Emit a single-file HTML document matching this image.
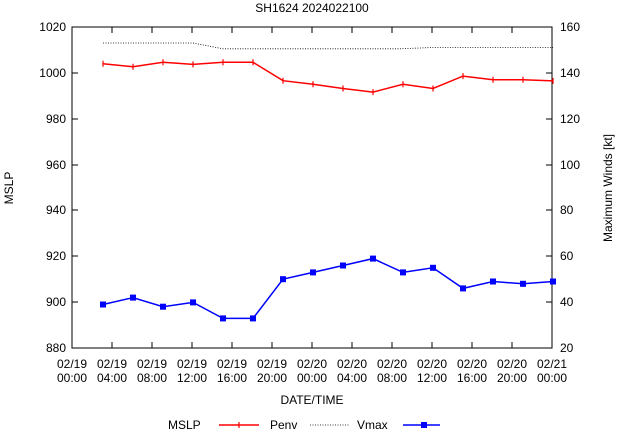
<!DOCTYPE html><html><head><style>body{margin:0;background:#fff}svg{display:block}text{font-family:"Liberation Sans",sans-serif;font-size:12px;fill:#000}</style></head><body>
<svg width="619" height="432" xmlns="http://www.w3.org/2000/svg">
<rect x="72" y="27" width="480" height="321" fill="none" stroke="#000" stroke-width="1"/>
<g stroke="#000" stroke-width="1">
<path d="M72 27h6M72 73h6M72 119h6M72 165h6M72 210h6M72 256h6M72 302h6M552 27h-6M552 73h-6M552 119h-6M552 165h-6M552 210h-6M552 256h-6M552 302h-6"/>
<path d="M112 348v-6M152 348v-6M192 348v-6M232 348v-6M272 348v-6M312 348v-6M352 348v-6M392 348v-6M432 348v-6M472 348v-6M512 348v-6M112 27v6M152 27v6M192 27v6M232 27v6M272 27v6M312 27v6M352 27v6M392 27v6M432 27v6M472 27v6M512 27v6"/>
</g>
<g text-anchor="end">
<text x="66" y="31">1020</text><text x="66" y="77">1000</text><text x="66" y="123">980</text><text x="66" y="169">960</text><text x="66" y="214">940</text><text x="66" y="260">920</text><text x="66" y="306">900</text><text x="66" y="352">880</text></g>
<g text-anchor="start">
<text x="560" y="31">160</text><text x="560" y="77">140</text><text x="560" y="123">120</text><text x="560" y="169">100</text><text x="560" y="214">80</text><text x="560" y="260">60</text><text x="560" y="306">40</text><text x="560" y="352">20</text></g>
<g text-anchor="middle">
<text x="72" y="368">02/19</text><text x="72" y="382">00:00</text>
<text x="112" y="368">02/19</text><text x="112" y="382">04:00</text>
<text x="152" y="368">02/19</text><text x="152" y="382">08:00</text>
<text x="192" y="368">02/19</text><text x="192" y="382">12:00</text>
<text x="232" y="368">02/19</text><text x="232" y="382">16:00</text>
<text x="272" y="368">02/19</text><text x="272" y="382">20:00</text>
<text x="312" y="368">02/20</text><text x="312" y="382">00:00</text>
<text x="352" y="368">02/20</text><text x="352" y="382">04:00</text>
<text x="392" y="368">02/20</text><text x="392" y="382">08:00</text>
<text x="432" y="368">02/20</text><text x="432" y="382">12:00</text>
<text x="472" y="368">02/20</text><text x="472" y="382">16:00</text>
<text x="512" y="368">02/20</text><text x="512" y="382">20:00</text>
<text x="552" y="368">02/21</text><text x="552" y="382">00:00</text>
<text x="312" y="404">DATE/TIME</text>
<text x="312" y="12">SH1624 2024022100</text>
<text transform="translate(13,188) rotate(-90)">MSLP</text>
<text transform="translate(612,188) rotate(-90)">Maximum Winds [kt]</text>
</g>
<polyline fill="none" stroke="#000" stroke-width="0.8" stroke-dasharray="1,1.5" points="103,43 193,43 223,48.8 400,48.8 430,47.6 553,47.6"/>
<polyline fill="none" stroke="#f00" stroke-width="1.5" points="103,63.7 133,66.7 163,62.3 193,64.4 223,62.3 253,62.3 283,80.7 313,84.3 343,88.5 373,92.1 403,84.3 433,88.5 463,76.1 493,79.7 523,79.7 553,80.9"/>
<g stroke="#f00" stroke-width="1.2" fill="none">
<path d="M103 60.7v6M133 63.7v6M163 59.3v6M193 61.4v6M223 59.3v6M253 59.3v6M283 77.7v6M313 81.3v6M343 85.5v6M373 89.1v6M403 81.3v6M433 85.5v6M463 73.1v6M493 76.7v6M523 76.7v6M553 77.9v6"/>
</g>
<polyline fill="none" stroke="#00f" stroke-width="1.5" points="103,304.5 133,297.6 163,306.7 193,302.4 223,318.4 253,318.4 283,279.2 313,272.4 343,265.5 373,258.6 403,272.4 433,267.8 463,288.4 493,281.5 523,283.8 553,281.5"/>
<g fill="#00f">
<rect x="100" y="301.5" width="6" height="6"/><rect x="130" y="294.6" width="6" height="6"/><rect x="160" y="303.7" width="6" height="6"/><rect x="190" y="299.4" width="6" height="6"/><rect x="220" y="315.4" width="6" height="6"/><rect x="250" y="315.4" width="6" height="6"/><rect x="280" y="276.2" width="6" height="6"/><rect x="310" y="269.4" width="6" height="6"/><rect x="340" y="262.5" width="6" height="6"/><rect x="370" y="255.6" width="6" height="6"/><rect x="400" y="269.4" width="6" height="6"/><rect x="430" y="264.8" width="6" height="6"/><rect x="460" y="285.4" width="6" height="6"/><rect x="490" y="278.5" width="6" height="6"/><rect x="520" y="280.8" width="6" height="6"/><rect x="550" y="278.5" width="6" height="6"/>
</g>
<text x="168" y="429">MSLP</text>
<line x1="219" y1="425" x2="259" y2="425" stroke="#f00" stroke-width="1.5"/><line x1="239" y1="422" x2="239" y2="428" stroke="#f00" stroke-width="1.2"/>
<text x="270" y="429">Penv</text>
<line x1="310" y1="425" x2="350" y2="425" stroke="#000" stroke-width="0.8" stroke-dasharray="1,1.5"/>
<text x="357" y="429">Vmax</text>
<line x1="403" y1="425" x2="440" y2="425" stroke="#00f" stroke-width="1.5"/><rect x="421" y="422" width="6" height="6" fill="#00f"/>
</svg></body></html>
